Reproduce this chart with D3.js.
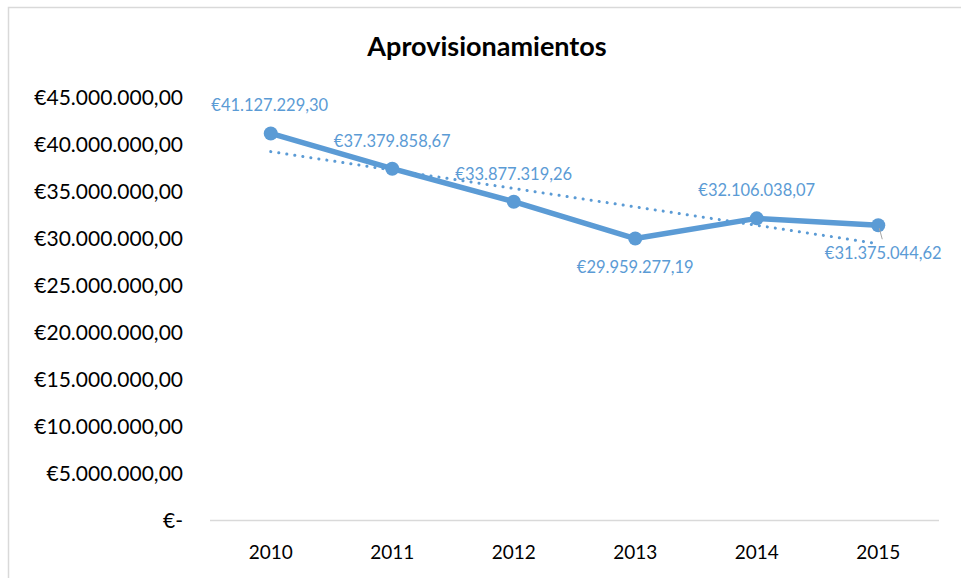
<!DOCTYPE html>
<html>
<head>
<meta charset="utf-8">
<script src="https://cdn.jsdelivr.net/npm/d3@7"></script>
<style>
  html, body { margin: 0; padding: 0; background: #fff; }
  svg { display: block; }
  text { font-family: Lato, "Open Sans", sans-serif; }
</style>
</head>
<body>
<svg id="chart" width="961" height="578"></svg>
<script>
const title = "Aprovisionamientos";
const years = ["2010", "2011", "2012", "2013", "2014", "2015"];
const values = [41127229.30, 37379858.67, 33877319.26, 29959277.19, 32106038.07, 31375044.62];
const valueLabels = ["€41.127.229,30", "€37.379.858,67", "€33.877.319,26", "€29.959.277,19", "€32.106.038,07", "€31.375.044,62"];
const yTicks = [0, 5000000, 10000000, 15000000, 20000000, 25000000, 30000000, 35000000, 40000000, 45000000];
const yTickLabels = ["€-", "€5.000.000,00", "€10.000.000,00", "€15.000.000,00", "€20.000.000,00", "€25.000.000,00", "€30.000.000,00", "€35.000.000,00", "€40.000.000,00", "€45.000.000,00"];
// label placement relative to point: "above" or "below"
const labelPos = ["above", "above", "above", "below", "above", "below"];

const svg = d3.select("#chart");
const color = "#5b9bd5";

// outer border
svg.append("rect").attr("x", 8.5).attr("y", 7.5).attr("width", 970).attr("height", 600)
  .attr("fill", "none").attr("stroke", "#d9d9d9").attr("stroke-width", 1.5);

const plot = { left: 210, right: 939, top: 97, bottom: 520.5 };

const x = d3.scaleBand().domain(years).range([plot.left, plot.right]);
const y = d3.scaleLinear().domain([0, 45000000]).range([plot.bottom, plot.top]);
const cx = d => x(d) + x.bandwidth() / 2;

// title
svg.append("text").attr("x", 487).attr("y", 56).attr("text-anchor", "middle")
  .attr("font-weight", "bold").attr("font-size", 27).attr("fill", "#000").text(title);

// y axis labels
const yAxis = d3.axisLeft(y).tickValues(yTicks).tickSize(0).tickPadding(0)
  .tickFormat((d, i) => yTickLabels[i]);
const gy = svg.append("g").attr("transform", "translate(183,0)").call(yAxis);
gy.select(".domain").remove();
gy.selectAll("text").attr("font-size", 21).attr("fill", "#000")
  .attr("font-family", "Lato, 'Open Sans', sans-serif").attr("dy", "0.35em");

// x axis
const xAxis = d3.axisBottom(x).tickSize(0).tickPadding(0);
const gx = svg.append("g").attr("transform", `translate(0,${plot.bottom})`).call(xAxis);
gx.select(".domain").attr("stroke", "#d9d9d9").attr("stroke-width", 1.5)
  .attr("d", `M${plot.left},0H${plot.right}`);
gx.selectAll("text").attr("font-size", 19).attr("fill", "#000")
  .attr("font-family", "Lato, 'Open Sans', sans-serif").attr("y", 38).attr("dy", 0);

// linear trendline (least squares over category index)
const n = values.length;
const xi = d3.range(1, n + 1);
const mx = d3.mean(xi), my = d3.mean(values);
const slope = d3.sum(xi, (v, i) => (v - mx) * (values[i] - my)) / d3.sum(xi, v => (v - mx) ** 2);
const intercept = my - slope * mx;
const trend = [years[0], years[n - 1]].map((yr, k) => ({ yr, v: intercept + slope * (k === 0 ? 1 : n) }));
svg.append("path").datum(trend)
  .attr("d", d3.line().x(d => cx(d.yr)).y(d => y(d.v)))
  .attr("fill", "none").attr("stroke", color).attr("stroke-width", 3)
  .attr("stroke-dasharray", "0.1 8").attr("stroke-linecap", "round");

// main line
const data = years.map((yr, i) => ({ yr, v: values[i], label: valueLabels[i], pos: labelPos[i] }));
svg.append("path").datum(data)
  .attr("d", d3.line().x(d => cx(d.yr)).y(d => y(d.v)))
  .attr("fill", "none").attr("stroke", color).attr("stroke-width", 5.5)
  .attr("stroke-linejoin", "round").attr("stroke-linecap", "round");

svg.selectAll("circle.pt").data(data).enter().append("circle")
  .attr("class", "pt").attr("cx", d => cx(d.yr)).attr("cy", d => y(d.v)).attr("r", 7)
  .attr("fill", color);

// leader line for last label
const last = data[n - 1];
svg.append("line").attr("x1", cx(last.yr) + 1).attr("y1", y(last.v) + 3)
  .attr("x2", cx(last.yr) + 4).attr("y2", y(last.v) + 14)
  .attr("stroke", "#a6a6a6").attr("stroke-width", 1);

// data labels
svg.selectAll("text.lbl").data(data).enter().append("text")
  .attr("class", "lbl")
  .attr("x", (d, i) => cx(d.yr) + (i === n - 1 ? 5 : (i === 0 ? -1 : 0)))
  .attr("y", d => d.pos === "above" ? y(d.v) - 22 : y(d.v) + 34)
  .attr("text-anchor", "middle").attr("font-size", 16.5).attr("fill", color)
  .text(d => d.label);
</script>
</body>
</html>
